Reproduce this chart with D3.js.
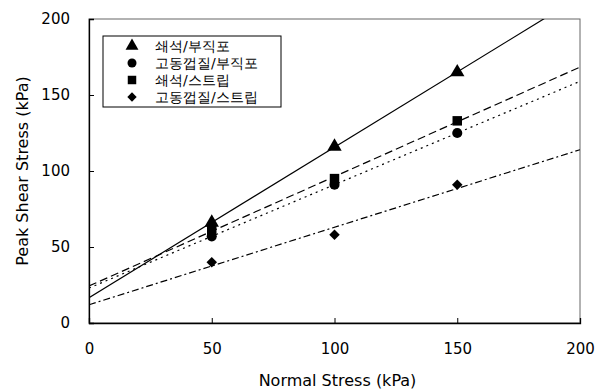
<!DOCTYPE html>
<html>
<head>
<meta charset="utf-8">
<script src="https://cdn.jsdelivr.net/npm/d3@7"></script>
<style>
  body { margin: 0; background: #fff; }
  text { font-family: "DejaVu Sans", Arial, sans-serif; }
</style>
</head>
<body>
<div id="chart"></div>
<script>
const normalStress = [50, 100, 150];
const seriesNames = ['쇄석/부직포', '고동껍질/부직포', '쇄석/스트립', '고동껍질/스트립'];
const crushedNonwoven = [66, 116, 165];
const shellNonwoven = [57, 91, 125];
const crushedStrip = [61, 95, 133];
const shellStrip = [40, 58, 91];
const xTicks = [0, 50, 100, 150, 200];
const yTicks = [0, 50, 100, 150, 200];

const W = 605, H = 392;
const margin = { top: 19, right: 25, bottom: 69, left: 89 };
const width = W - margin.left - margin.right;
const height = H - margin.top - margin.bottom;

const svg = d3.select('#chart').append('svg')
  .attr('width', W).attr('height', H);

const g = svg.append('g')
  .attr('transform', `translate(${margin.left},${margin.top})`);

const x = d3.scaleLinear().domain([0, 200]).range([0, width]);
const y = d3.scaleLinear().domain([0, 200]).range([height, 0]);

// clip for fit lines
g.append('clipPath').attr('id', 'clip')
  .append('rect').attr('width', width).attr('height', height);

// frame
g.append('rect')
  .attr('width', width).attr('height', height)
  .attr('fill', 'none').attr('stroke', '#666').attr('stroke-width', 1);

// axes, ticks pointing inward
g.append('g')
  .attr('transform', `translate(0,${height})`)
  .call(d3.axisBottom(x).tickValues(xTicks).tickSize(-5).tickPadding(20))
  .call(a => a.select('.domain').attr('stroke', '#000').attr('stroke-width', 1.3))
  .call(a => a.selectAll('.tick line').attr('stroke', '#000'))
  .call(a => a.selectAll('.tick text').attr('font-size', 15).attr('fill', '#000'));

g.append('g')
  .call(d3.axisLeft(y).tickValues(yTicks).tickSize(-5).tickPadding(19))
  .call(a => a.select('.domain').attr('stroke', '#000').attr('stroke-width', 1.3))
  .call(a => a.selectAll('.tick line').attr('stroke', '#000'))
  .call(a => a.selectAll('.tick text').attr('font-size', 15).attr('fill', '#000'));

// axis titles
svg.append('text')
  .attr('x', margin.left + width / 2 + 3).attr('y', 386)
  .attr('text-anchor', 'middle').attr('font-size', 16)
  .text('Normal Stress (kPa)');

svg.append('text')
  .attr('transform', `translate(28,${margin.top + height / 2}) rotate(-90)`)
  .attr('text-anchor', 'middle').attr('font-size', 16)
  .text('Peak Shear Stress (kPa)');

// least-squares fit
function fit(xs, ys) {
  const mx = d3.mean(xs), my = d3.mean(ys);
  const b = d3.sum(xs, (v, i) => (v - mx) * (ys[i] - my)) / d3.sum(xs, v => (v - mx) ** 2);
  return { a: my - b * mx, b };
}

const series = [
  { name: seriesNames[0], values: crushedNonwoven, symbol: d3.symbolTriangle, size: 90, dash: null },
  { name: seriesNames[1], values: shellNonwoven, symbol: d3.symbolCircle, size: 80, dash: '2,4' },
  { name: seriesNames[2], values: crushedStrip, symbol: d3.symbolSquare, size: 90, dash: '8,4' },
  { name: seriesNames[3], values: shellStrip, symbol: d3.symbolDiamond2, size: 70, dash: '7,3,2,3' },
];

const lines = g.append('g').attr('clip-path', 'url(#clip)');
series.forEach(s => {
  const f = fit(normalStress, s.values);
  const ends = [0, 200].map(v => [v, f.a + f.b * v]);
  lines.append('path')
    .datum(ends)
    .attr('fill', 'none')
    .attr('stroke', '#000')
    .attr('stroke-width', 1.2)
    .attr('stroke-dasharray', s.dash)
    .attr('d', d3.line().x(d => x(d[0])).y(d => y(d[1])));
});

series.forEach(s => {
  g.selectAll(null)
    .data(s.values)
    .enter().append('path')
    .attr('transform', (d, i) => `translate(${x(normalStress[i])},${y(d)})`)
    .attr('d', d3.symbol().type(s.symbol).size(s.size))
    .attr('fill', '#000');
});

// legend
const legend = svg.append('g').attr('transform', 'translate(103,36)');
legend.append('rect')
  .attr('width', 178).attr('height', 71)
  .attr('fill', '#fff').attr('stroke', '#000').attr('stroke-width', 1);

series.forEach((s, i) => {
  const row = legend.append('g').attr('transform', `translate(0,${10 + i * 17})`);
  row.append('path')
    .attr('transform', 'translate(29,0)')
    .attr('d', d3.symbol().type(s.symbol).size(s.size * 0.8))
    .attr('fill', '#000');
  row.append('text')
    .attr('x', 52).attr('y', 5)
    .attr('font-family', '"Noto Sans CJK KR", sans-serif')
    .attr('font-size', 14)
    .text(s.name);
});
</script>
</body>
</html>
